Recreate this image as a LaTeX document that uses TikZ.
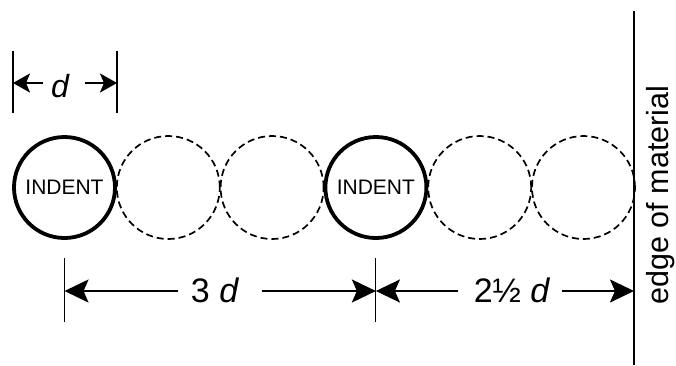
\documentclass[tikz,border=0pt]{standalone}
\usepackage{fontspec}
\setmainfont{Liberation Sans}
\usetikzlibrary{arrows.meta}
\begin{document}
\begin{tikzpicture}[x=1pt,y=1pt,
 indent/.style={circle, draw, line width=3.8pt, minimum size=101pt, inner sep=0pt, font=\fontsize{21}{23}\selectfont},
 ghost/.style={circle, draw, line width=1.7pt, dash pattern=on 7pt off 4pt, minimum size=103pt, inner sep=0pt},
 tickline/.style={line width=1.1pt},
 dimbig/.style={line width=2.4pt, -{Stealth[length=24pt,width=23pt,inset=5pt]}},
 dimsmall/.style={line width=2.4pt, -{Stealth[length=17pt,width=19pt,inset=4pt]}},
 lbl/.style={font=\fontsize{34}{36}\selectfont, inner sep=0pt},
 edgeline/.style={line width=2.6pt},
]
\useasboundingbox (0,0) rectangle (676,-365);
% circles
\node[ghost] (c2) at (168.3,-187.5) {};
\node[ghost] (c3) at (272.1,-187.5) {};
\node[ghost] (c5) at (479.7,-187.5) {};
\node[ghost] (c6) at (583.5,-187.5) {};
\node[indent] (c1) at (64.5,-187.5) {INDENT};
\node[indent] (c4) at (375.9,-187.5) {INDENT};
% d marker
\coordinate (dta) at (13,-51); \coordinate (dtb) at (13,-113);
\coordinate (dua) at (117,-51); \coordinate (dub) at (117,-113);
\draw[tickline] (dta) -- (dtb);
\draw[tickline] (dua) -- (dub);
\node[lbl, font=\fontsize{32}{34}\selectfont\itshape] (dl) at (60,-86) {d};
\coordinate (dl1) at (43,-83); \coordinate (dl2) at (13,-83);
\coordinate (dr1) at (85,-83); \coordinate (dr2) at (117,-83);
\draw[dimsmall] (dl1) -- (dl2);
\draw[dimsmall] (dr1) -- (dr2);
% 3d
\coordinate (ta) at (64.5,-258); \coordinate (tb) at (64.5,-322);
\coordinate (ua) at (375.9,-258); \coordinate (ub) at (375.9,-322);
\draw[tickline] (ta) -- (tb);
\draw[tickline] (ua) -- (ub);
\node[lbl] (three) at (215,-290) {3 \textit{d}};
\coordinate (a1s) at (178,-291); \coordinate (a1e) at (64.5,-291);
\coordinate (a2s) at (262,-291); \coordinate (a2e) at (375.9,-291);
\draw[dimbig] (a1s) -- (a1e);
\draw[dimbig] (a2s) -- (a2e);
% 2.5d
\node[lbl] (twohalf) at (512,-290) {2½ \textit{d}};
\coordinate (b1s) at (458,-291); \coordinate (b1e) at (375.9,-291);
\coordinate (b2s) at (562,-291); \coordinate (b2e) at (634,-291);
\draw[dimbig] (b1s) -- (b1e);
\draw[dimbig] (b2s) -- (b2e);
% edge
\coordinate (etop) at (634,-11); \coordinate (ebot) at (634,-365);
\draw[edgeline] (etop) -- (ebot);
\node[lbl, font=\fontsize{30.5}{33}\selectfont, rotate=90, anchor=base] (edge) at (668.5,-195) {edge of material};
\end{tikzpicture}
\end{document}
